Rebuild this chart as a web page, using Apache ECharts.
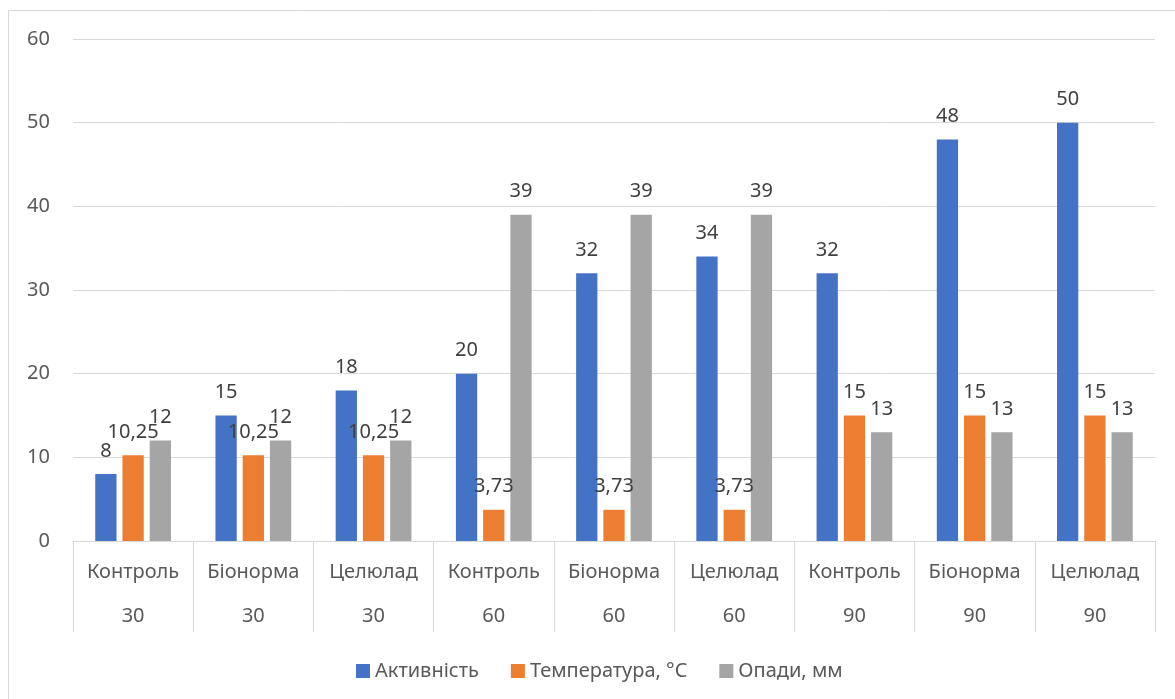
<!doctype html>
<html>
<head>
    <meta charset="UTF-8">
    <title>Активність</title>
    <script src="https://cdn.jsdelivr.net/npm/echarts@6/dist/echarts.min.js"></script>
    <style>
        html, body { margin: 0; padding: 0; background: #fff; }
    </style>
</head>
<body>
<div id="main" style="width: 1175px;height:699px;"></div>
<script type="text/javascript">
    // категорії (два рівні осі)
    var treatments = ['Контроль', 'Біонорма', 'Целюлад', 'Контроль', 'Біонорма', 'Целюлад', 'Контроль', 'Біонорма', 'Целюлад'];
    var days = ['30', '30', '30', '60', '60', '60', '90', '90', '90'];
    // значення серій
    var activity = [8, 15, 18, 20, 32, 34, 32, 48, 50];
    var temperature = [10.25, 10.25, 10.25, 3.73, 3.73, 3.73, 15, 15, 15];
    var rainfall = [12, 12, 12, 39, 39, 39, 13, 13, 13];
    var seriesNames = ['Активність', 'Температура, °C', 'Опади, мм'];

    var font = '"Noto Sans", sans-serif';
    var fs = 20;
    var myChart = echarts.init(document.getElementById('main'));

    function makeLabel() {
        return {
            show: true,
            position: 'top',
            distance: 13,
            color: '#404040',
            fontSize: fs,
            fontFamily: font,
            formatter: function (p) {
                return String(p.value).replace('.', ',');
            }
        };
    }

    var option = {
        animation: false,
        graphic: [{
            type: 'rect',
            shape: {x: 8.5, y: 10.5, width: 1200, height: 720},
            style: {fill: 'none', stroke: '#d9d9d9', lineWidth: 1}
        }],
        grid: {left: 73, right: 20, top: 39, bottom: 158},
        legend: {
            left: 351,
            top: 656,
            itemWidth: 14,
            itemHeight: 14,
            itemGap: 32,
            icon: 'rect',
            textStyle: {color: '#595959', fontSize: fs, fontFamily: font},
            data: seriesNames
        },
        xAxis: [{
            type: 'category',
            data: treatments,
            axisLine: {lineStyle: {color: '#d9d9d9', width: 1}},
            axisTick: {show: true, interval: 0, length: 91, lineStyle: {color: '#d9d9d9'}},
            axisLabel: {interval: 0, margin: 21, color: '#595959', fontSize: fs, fontFamily: font}
        }, {
            type: 'category',
            position: 'bottom',
            data: days,
            axisLine: {show: false},
            axisTick: {show: false},
            axisLabel: {interval: 0, margin: 65, color: '#595959', fontSize: fs, fontFamily: font}
        }],
        yAxis: {
            type: 'value',
            min: 0,
            max: 60,
            interval: 10,
            axisLine: {show: false},
            axisTick: {show: false},
            splitLine: {lineStyle: {color: '#d9d9d9', width: 1}},
            axisLabel: {margin: 23, color: '#595959', fontSize: fs, fontFamily: font}
        },
        series: [{
            name: seriesNames[0],
            type: 'bar',
            data: activity,
            barGap: '28%',
            barCategoryGap: '37%',
            itemStyle: {color: '#4472C4'},
            label: makeLabel()
        }, {
            name: seriesNames[1],
            type: 'bar',
            data: temperature,
            barGap: '28%',
            barCategoryGap: '37%',
            itemStyle: {color: '#ED7D31'},
            label: makeLabel()
        }, {
            name: seriesNames[2],
            type: 'bar',
            data: rainfall,
            barGap: '28%',
            barCategoryGap: '37%',
            itemStyle: {color: '#A5A5A5'},
            label: makeLabel()
        }]
    };
    myChart.setOption(option);
</script>
</body>
</html>
